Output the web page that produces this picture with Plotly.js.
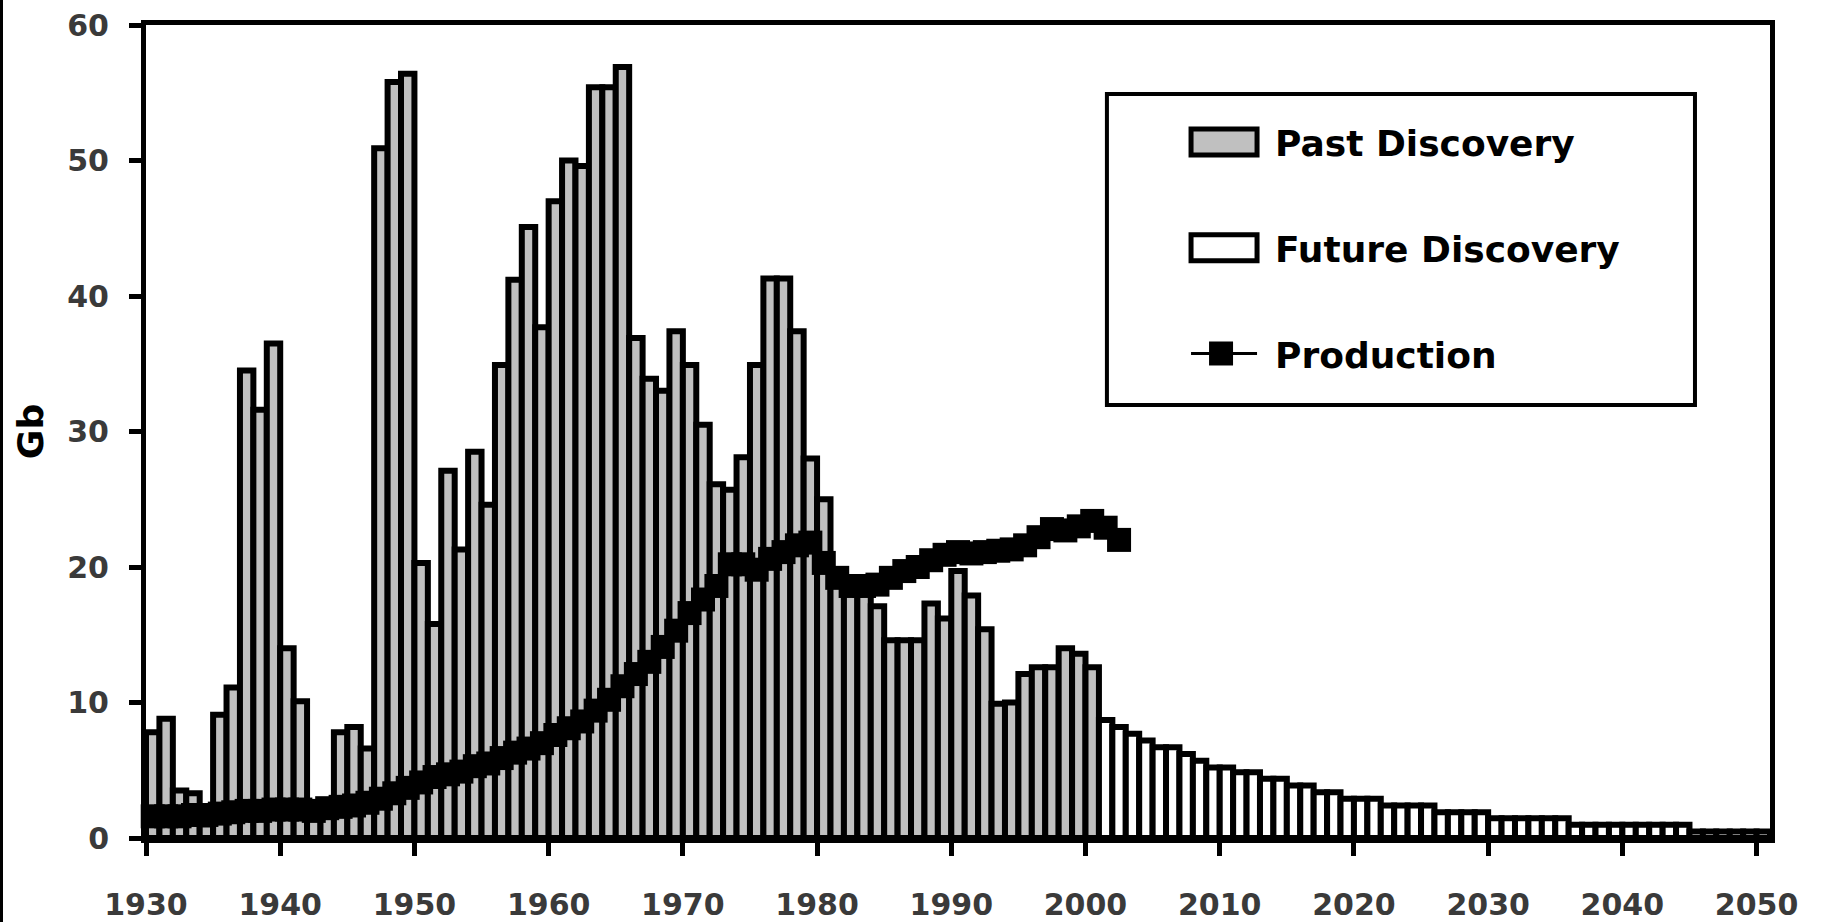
<!DOCTYPE html>
<html><head><meta charset="utf-8">
<script src="https://cdn.plot.ly/plotly-3.0.1.min.js"></script>
<style>
html,body{margin:0;padding:0;background:#fff;}
#wrap{position:relative;width:1830px;height:922px;}
#chart{width:1830px;height:922px;}
#edge{position:absolute;left:0;top:0;width:3px;height:922px;background:#000;}
</style></head><body>
<div id="wrap"><div id="chart"></div><div id="edge"></div></div>
<script>
const pastYears = [1930,1931,1932,1933,1934,1935,1936,1937,1938,1939,
  1940,1941,1942,1943,1944,1945,1946,1947,1948,1949,
  1950,1951,1952,1953,1954,1955,1956,1957,1958,1959,
  1960,1961,1962,1963,1964,1965,1966,1967,1968,1969,
  1970,1971,1972,1973,1974,1975,1976,1977,1978,1979,
  1980,1981,1982,1983,1984,1985,1986,1987,1988,1989,
  1990,1991,1992,1993,1994,1995,1996,1997,1998,1999,2000];
const pastDiscovery = [7.8,8.8,3.5,3.3,1.0,9.1,11.1,34.5,31.6,36.5,
  14.0,10.1,2.5,2.5,7.8,8.2,6.6,50.9,55.8,56.4,
  20.3,15.8,27.1,21.3,28.5,24.6,34.9,41.2,45.1,37.7,
  47.0,50.0,49.6,55.4,55.4,56.9,36.9,33.9,33.0,37.4,
  34.9,30.5,26.1,25.7,28.1,34.9,41.3,41.3,37.4,28.0,
  25.0,19.5,18.0,18.0,17.1,14.6,14.6,14.6,17.3,16.2,
  19.7,17.9,15.4,9.9,10.0,12.1,12.6,12.6,14.0,13.6,12.6];
const futureYears = [2001,2002,2003,2004,2005,2006,2007,2008,2009,2010,
  2011,2012,2013,2014,2015,2016,2017,2018,2019,2020,
  2021,2022,2023,2024,2025,2026,2027,2028,2029,2030,
  2031,2032,2033,2034,2035,2036,2037,2038,2039,2040,
  2041,2042,2043,2044,2045,2046,2047,2048,2049,2050];
const futureDiscovery = [8.7,8.2,7.7,7.2,6.7,6.7,6.2,5.7,5.2,5.2,
  4.86,4.86,4.37,4.37,3.87,3.87,3.38,3.38,2.89,2.89,
  2.89,2.4,2.4,2.4,2.4,1.9,1.9,1.9,1.9,1.46,
  1.46,1.46,1.46,1.46,1.46,0.97,0.97,0.97,0.97,0.97,
  0.97,0.97,0.97,0.97,0.48,0.48,0.48,0.48,0.48,0.48];
const prodYears = [1930,1931,1932,1933,1934,1935,1936,1937,1938,1939,
  1940,1941,1942,1943,1944,1945,1946,1947,1948,1949,
  1950,1951,1952,1953,1954,1955,1956,1957,1958,1959,
  1960,1961,1962,1963,1964,1965,1966,1967,1968,1969,
  1970,1971,1972,1973,1974,1975,1976,1977,1978,1979,
  1980,1981,1982,1983,1984,1985,1986,1987,1988,1989,
  1990,1991,1992,1993,1994,1995,1996,1997,1998,1999,
  2000,2001,2002];
const production = [1.6,1.6,1.6,1.7,1.7,1.8,1.9,2.0,2.0,2.1,
  2.1,2.1,2.0,2.2,2.3,2.4,2.6,2.9,3.3,3.7,
  4.1,4.5,4.7,4.9,5.3,5.5,5.9,6.3,6.6,7.0,
  7.6,8.1,8.6,9.4,10.2,11.2,12.1,13.0,14.1,15.3,
  16.6,17.6,18.6,20.2,20.2,19.8,20.6,21.1,21.6,21.8,
  20.3,19.2,18.6,18.6,18.7,19.2,19.7,20.0,20.5,20.9,
  21.1,21.0,21.1,21.2,21.3,21.6,22.2,22.8,22.7,23.0,
  23.4,22.9,22.0];
const seriesNames = ['Past Discovery','Future Discovery','Production'];
const yTitle = 'Gb';

const FONT = 'DejaVu Sans';
const traces = [
  {type:'bar', name:seriesNames[0], x:pastYears, y:pastDiscovery, offset:0, width:1,
   legendgroup:'a', marker:{color:'#c0c0c0', line:{color:'#000', width:6}}, hoverinfo:'x+y'},
  {type:'bar', name:seriesNames[1], x:futureYears, y:futureDiscovery, offset:0, width:1,
   legendgroup:'b', marker:{color:'#ffffff', line:{color:'#000', width:6}}, hoverinfo:'x+y'},
  {type:'scatter', mode:'lines+markers', name:seriesNames[2],
   x:prodYears.map(v => v + 0.5), y:production, legendgroup:'c', cliponaxis:false,
   line:{color:'#000', width:3}, marker:{symbol:'square', size:24, color:'#000'}}
];
const tickFont = {family:FONT, size:30, color:'#3a3a3a', weight:'bold'};
const layout = {
  width:1830, height:922,
  margin:{l:146, r:60, t:25, b:84, pad:0},
  paper_bgcolor:'#fff', plot_bgcolor:'#fff',
  barmode:'overlay',
  font:{family:FONT, color:'#000'},
  xaxis:{range:[1930,2051], tickmode:'linear', tick0:1930, dtick:10,
    showgrid:false, zeroline:false, showline:true, linecolor:'#000', linewidth:5, mirror:true,
    ticks:'outside', ticklen:13, tickwidth:5, tickcolor:'#000',
    tickfont:tickFont, ticklabelstandoff:23},
  yaxis:{range:[0,60], tickmode:'linear', tick0:0, dtick:10,
    showgrid:false, zeroline:false, showline:true, linecolor:'#000', linewidth:5, mirror:true,
    ticks:'outside', ticklen:12, tickwidth:5, tickcolor:'#000',
    tickfont:tickFont, ticklabelstandoff:14,
    title:{text:yTitle, font:{family:FONT, size:36, weight:'bold', color:'#000'}, standoff:14}},
  yaxis2:{overlaying:'y', side:'left', range:[0,60], tickmode:'linear', tick0:0, dtick:10,
    ticks:'inside', ticklen:8, tickwidth:5, tickcolor:'#000', showticklabels:false,
    showline:false, showgrid:false, zeroline:false},
  showlegend:true,
  legend:{x:0.5967, y:0.893, xanchor:'left', yanchor:'top', traceorder:'grouped',
    borderwidth:0, bgcolor:'rgba(0,0,0,0)', tracegroupgap:56,
    itemwidth:150,
    font:{family:FONT, size:36, weight:'bold', color:'#000'}},
  shapes:[{type:'rect', xref:'paper', yref:'paper', x0:0.5917, x1:0.9538, y0:0.5326, y1:0.9151,
    line:{color:'#000', width:4}, fillcolor:'rgba(0,0,0,0)', layer:'above'}]
};
Plotly.newPlot('chart', traces, layout, {displayModeBar:false, staticPlot:true}).then(function(){
  document.querySelectorAll('.legend .traces').forEach(function(g){
    const t = g.querySelector('.legendtext');
    const name = t ? t.textContent : '';
    if (name === seriesNames[2]) {
      g.querySelectorAll('.legendlines path').forEach(function(p){ p.setAttribute('d','M76,0h66'); p.style.strokeWidth='3px'; });
      g.querySelectorAll('path.scatterpts').forEach(function(p){
        p.setAttribute('d','M12,12H-12V-12H12Z'); p.setAttribute('transform','translate(106,0)'); });
    } else {
      g.querySelectorAll('.legendpoints path').forEach(function(p){
        p.setAttribute('d','M62,13H-4V-13H62Z'); p.style.strokeWidth='5px'; });
    }
  });
});
</script></body></html>
